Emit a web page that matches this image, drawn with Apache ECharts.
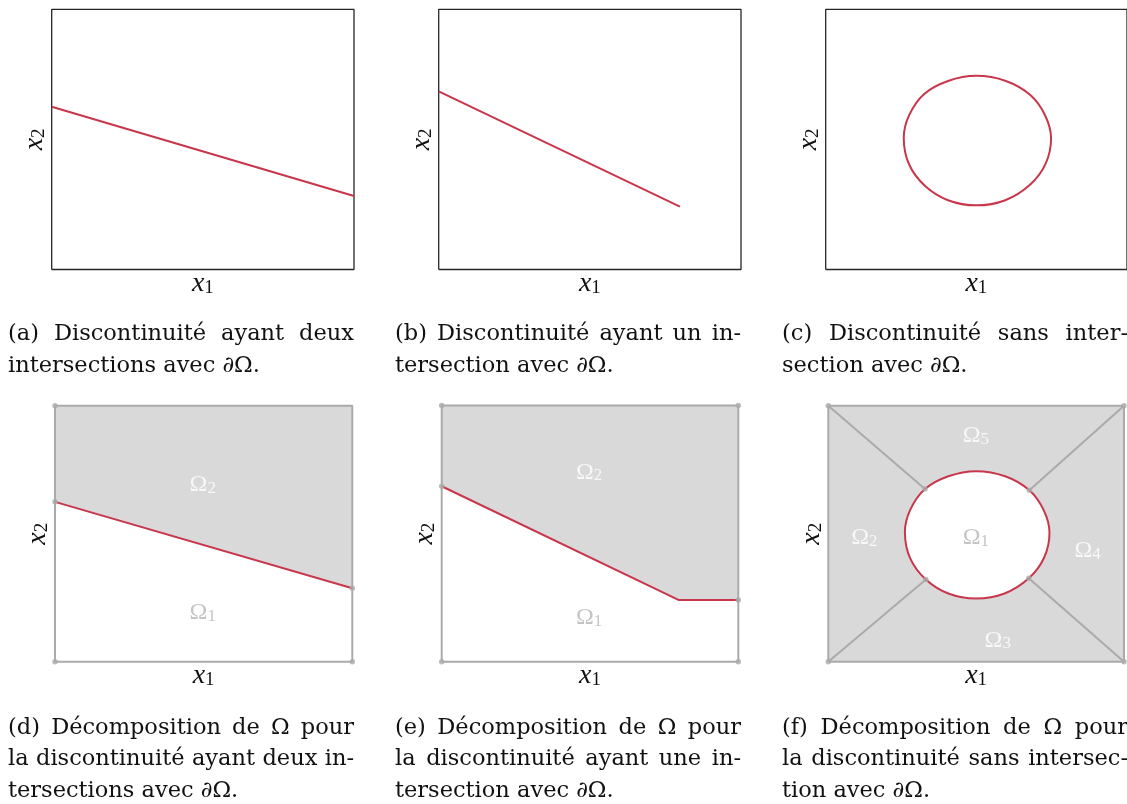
<!DOCTYPE html>
<html><head><meta charset="utf-8">
<script src="https://cdn.jsdelivr.net/npm/echarts@6/dist/echarts.min.js"></script>
<style>html,body{margin:0;padding:0;background:#fff}#c{width:1127px;height:804px}</style>
</head><body><div id="c"></div>
<script>
// ---------- data (domain units: x in [0,10], y in [0,8.6]) ----------
const X_MAX = 10, Y_MAX = 8.6;
const boxCorners = [[0,0],[10,0],[10,8.6],[0,8.6],[0,0]];
const lineA = [[0,5.38],[10,2.43]];
const lineB = [[0,5.89],[7.98,2.08]];
const circlePts = [[5.0,6.40],[5.98,6.23],[6.80,5.76],[7.28,5.10],[7.48,4.35],[7.30,3.50],[6.78,2.80],[5.96,2.29],
                   [5.0,2.12],[4.06,2.29],[3.30,2.76],[2.77,3.47],[2.59,4.35],[2.77,5.10],[3.27,5.80],[4.06,6.23]];
const lineD = [[0,5.37],[10,2.47]];
const lineE = [[0,5.89],[8.0,2.07],[10,2.07]];
const diagF = [[[0,8.6],[3.27,5.80]],[[10,8.6],[6.80,5.76]],[[0,0],[3.30,2.76]],[[10,0],[6.78,2.80]]];
const dotsD = [[0,0],[10,0],[0,8.6],[0,5.37],[10,2.47]];
const dotsE = [[0,0],[10,0],[0,8.6],[10,8.6],[0,5.89],[10,2.07]];
const dotsF = [[0,0],[10,0],[0,8.6],[10,8.6],[3.27,5.80],[6.80,5.76],[3.30,2.76],[6.78,2.80]];
// [subscript, x, y, onShade]
const labelsD = [['2',4.97,5.94,true],['1',4.97,1.63,false]];
const labelsE = [['2',4.97,6.36,true],['1',4.97,1.47,false]];
const labelsF = [['5',4.99,7.59,true],['2',1.22,4.17,true],['1',4.99,4.17,false],['4',8.77,3.73,true],['3',5.73,0.72,true]];
const captions = [
  ['(a) Discontinuité ayant deux','intersections avec ∂Ω.'],
  ['(b) Discontinuité ayant un in-','tersection avec ∂Ω.'],
  ['(c) Discontinuité sans inter-','section avec ∂Ω.'],
  ['(d) Décomposition de Ω pour','la discontinuité ayant deux in-','tersections avec ∂Ω.'],
  ['(e) Décomposition de Ω pour','la discontinuité ayant une in-','tersection avec ∂Ω.'],
  ['(f) Décomposition de Ω pour','la discontinuité sans intersec-','tion avec ∂Ω.']
];

// ---------- styles ----------
const FONT = '"DejaVu Serif", serif';
const MFONT = '"Liberation Serif", serif';
const RED = '#c8364b', GRAY = '#aaaaaa', SHADE = '#d9d9d9', DARK = '#262626';
const CAP_SIZE = 22.5;

const grids = [
  {left:51.7, top:9.3, width:302.3, height:260.2},
  {left:438.7, top:9.3, width:302.3, height:260.2},
  {left:825.7, top:9.3, width:302.3, height:260.2},
  {left:55, top:405.7, width:297.3, height:256},
  {left:441.7, top:405.5, width:296.6, height:256.2},
  {left:828.3, top:405.7, width:295.7, height:256}
];
const axRich = {
  x: {fontFamily: MFONT, fontStyle: 'italic', fontSize: 28, color: '#111', verticalAlign:'bottom', lineHeight: 24},
  s: {fontFamily: MFONT, fontSize: 19, color: '#111', verticalAlign:'bottom', lineHeight: 20}
};
const xAxes = grids.map((g,i)=>({gridIndex:i, type:'value', min:0, max:X_MAX, show:true,
  axisLine:{show:false}, axisTick:{show:false}, axisLabel:{show:false}, splitLine:{show:false},
  name:'{x|x}{s|1}', nameLocation:'middle', nameGap:4, nameTextStyle:{rich:axRich}}));
const yAxes = grids.map((g,i)=>({gridIndex:i, type:'value', min:0, max:Y_MAX, show:true,
  axisLine:{show:false}, axisTick:{show:false}, axisLabel:{show:false}, splitLine:{show:false},
  name:'{x|x}{s|2}', nameLocation:'middle', nameRotate:90, nameGap:3, nameTextStyle:{rich:axRich}}));

const series = [];
function poly(gi, pts, style, z){
  series.push({type:'custom', xAxisIndex:gi, yAxisIndex:gi, z:z, silent:true, clip:false, data:[[0,0]],
    renderItem:(p,api)=>({type:'polygon', shape:{points:pts.map(q=>api.coord(q))}, style:style})});
}
// closed smooth curve through read points (Catmull-Rom drawn as cubic Béziers, in pixel space)
function loop(gi, pts, style, z){
  series.push({type:'custom', xAxisIndex:gi, yAxisIndex:gi, z:z, silent:true, clip:false, data:[[0,0]],
    renderItem:(p,api)=>{
      const P = pts.map(q=>api.coord(q)), n = P.length;
      let d = 'M' + P[0][0] + ' ' + P[0][1];
      for (let i=0;i<n;i++){
        const p0=P[(i-1+n)%n], p1=P[i], p2=P[(i+1)%n], p3=P[(i+2)%n];
        const c1=[p1[0]+(p2[0]-p0[0])/6, p1[1]+(p2[1]-p0[1])/6];
        const c2=[p2[0]-(p3[0]-p1[0])/6, p2[1]-(p3[1]-p1[1])/6];
        d += ' C'+c1[0]+' '+c1[1]+' '+c2[0]+' '+c2[1]+' '+p2[0]+' '+p2[1];
      }
      d += ' Z';
      return {type:'path', shape:{pathData:d}, style:style};
    }});
}
function line(gi, pts, color, width, z){
  series.push({type:'line', xAxisIndex:gi, yAxisIndex:gi, data:pts, showSymbol:false, symbol:'none', clip:false, z:z,
    silent:true, lineStyle:{color:color, width:width}});
}
function dots(gi, pts){
  series.push({type:'scatter', xAxisIndex:gi, yAxisIndex:gi, data:pts, symbol:'circle', symbolSize:5.5, z:6, clip:false,
    silent:true, itemStyle:{color:GRAY}});
}
function labels(gi, arr){
  arr.forEach(l=>{
    const col = l[3] ? '#ffffff' : '#b5b5b5';
    series.push({type:'scatter', xAxisIndex:gi, yAxisIndex:gi, data:[[l[1],l[2]]], symbolSize:1, z:7, silent:true,
      itemStyle:{color:'transparent'},
      label:{show:true, position:'inside', formatter:'{m|Ω}{s|'+l[0]+'}',
        rich:{m:{fontFamily:MFONT, fontSize:24, color:col, verticalAlign:'bottom', lineHeight:24},
              s:{fontFamily:MFONT, fontSize:17, color:col, verticalAlign:'bottom', lineHeight:18}}}});
  });
}
// top row
line(0, boxCorners, DARK, 1.3, 2); line(0, lineA, RED, 2, 3);
line(1, boxCorners, DARK, 1.3, 2); line(1, lineB, RED, 2, 3);
line(2, boxCorners, DARK, 1.3, 2); loop(2, circlePts, {fill:'none', stroke:RED, lineWidth:2}, 3);
// (d)
poly(3, [[0,Y_MAX],[X_MAX,Y_MAX]].concat(lineD.slice().reverse()), {fill:SHADE}, 1);
line(3, boxCorners, GRAY, 2, 2); line(3, lineD, RED, 2, 3); dots(3, dotsD); labels(3, labelsD);
// (e)
poly(4, [[0,Y_MAX],[X_MAX,Y_MAX]].concat(lineE.slice().reverse()), {fill:SHADE}, 1);
line(4, boxCorners, GRAY, 2, 2); line(4, lineE, RED, 2, 3); dots(4, dotsE); labels(4, labelsE);
// (f)
poly(5, boxCorners.slice(0,4), {fill:SHADE}, 1);
diagF.forEach(d=>line(5, d, GRAY, 2, 2));
line(5, boxCorners, GRAY, 2, 2);
loop(5, circlePts, {fill:'#ffffff', stroke:RED, lineWidth:2}, 3);
dots(5, dotsF); labels(5, labelsF);

// ---------- captions (justified like LaTeX) ----------
const ctx = document.createElement('canvas').getContext('2d');
const capFont = CAP_SIZE + 'px ' + FONT;
ctx.font = capFont;
const capCols = [8, 395, 782], capWidth = 346;
const capTop = [334.5, 728], capStep = 31.5;
const graphics = [];
captions.forEach((lines, ci)=>{
  const x0 = capCols[ci % 3], y0 = capTop[Math.floor(ci/3)];
  lines.forEach((t, li)=>{
    const y = y0 + li*capStep;
    const justify = li < lines.length - 1;
    if (!justify) {
      graphics.push({type:'text', x:x0, y:y, style:{text:t, font:capFont, fill:'#111', verticalAlign:'middle', align:'left'}});
      return;
    }
    const words = t.split(' ');
    const ws = words.map(w=>ctx.measureText(w).width);
    const gap = (capWidth - ws.reduce((a,b)=>a+b,0)) / (words.length - 1);
    let cx = x0;
    words.forEach((w,i)=>{
      graphics.push({type:'text', x:cx, y:y, style:{text:w, font:capFont, fill:'#111', verticalAlign:'middle', align:'left'}});
      cx += ws[i] + gap;
    });
  });
});

const chart = echarts.init(document.getElementById('c'), null, {renderer:'canvas'});
chart.setOption({
  animation:false, backgroundColor:'#ffffff',
  grid: grids, xAxis: xAxes, yAxis: yAxes, series: series, graphic: graphics
});
</script></body></html>
